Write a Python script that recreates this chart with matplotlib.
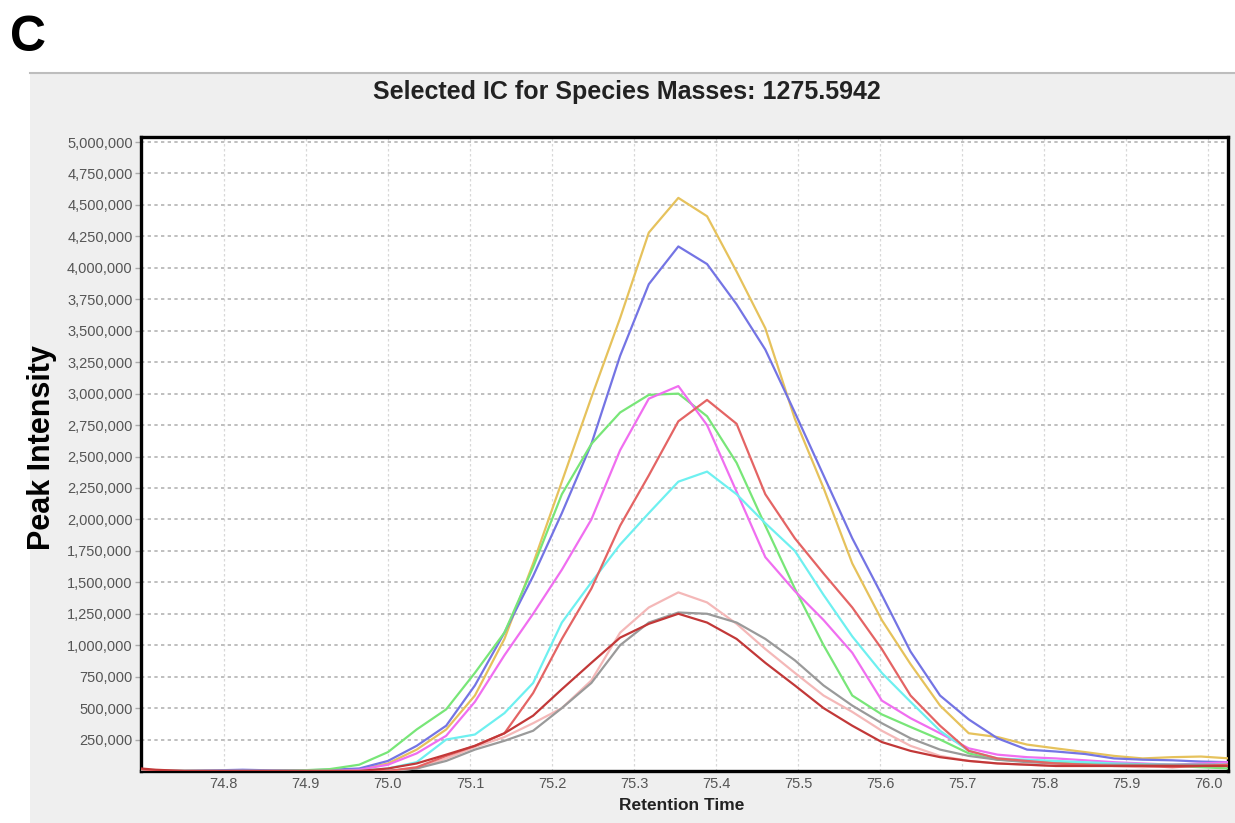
import matplotlib
matplotlib.use("Agg")
import matplotlib.pyplot as plt
from matplotlib.ticker import FuncFormatter
import numpy as np

plt.rcParams["font.family"] = ["Liberation Sans", "DejaVu Sans"]

# retention time (min), shared scan grid
times = [74.681, 74.717, 74.752, 74.788, 74.823, 74.858, 74.894, 74.929, 74.965,
         75.000, 75.035, 75.071, 75.106, 75.142, 75.177, 75.212, 75.248, 75.283,
         75.318, 75.354, 75.389, 75.425, 75.460, 75.496, 75.531, 75.566, 75.602,
         75.637, 75.673, 75.708, 75.743, 75.779, 75.814, 75.850, 75.885, 75.920,
         75.956, 75.991, 76.026]

# peak intensity, millions
yellow = [0, 0, 0, 0, 0, 0, 0, 0.005, 0.01, 0.06, 0.17, 0.33, 0.6, 1.05, 1.65, 2.3,
          2.97, 3.6, 4.28, 4.556, 4.41, 3.97, 3.52, 2.8, 2.25, 1.65, 1.2, 0.85, 0.52,
          0.3, 0.27, 0.21, 0.18, 0.15, 0.12, 0.1, 0.11, 0.115, 0.1]
blue = [0, 0, 0, 0.005, 0.01, 0.005, 0.005, 0.01, 0.02, 0.08, 0.2, 0.36, 0.68, 1.1,
        1.55, 2.05, 2.6, 3.3, 3.87, 4.17, 4.03, 3.71, 3.35, 2.85, 2.35, 1.85, 1.4,
        0.95, 0.6, 0.41, 0.26, 0.17, 0.155, 0.135, 0.1, 0.09, 0.085, 0.075, 0.07]
green = [0, 0, 0, 0, 0, 0, 0.005, 0.015, 0.05, 0.15, 0.33, 0.49, 0.78, 1.1, 1.62,
         2.2, 2.6, 2.85, 2.99, 3.0, 2.82, 2.45, 1.95, 1.45, 1.0, 0.6, 0.45, 0.35,
         0.25, 0.14, 0.09, 0.08, 0.07, 0.06, 0.05, 0.05, 0.04, 0.03, 0.02]
magenta = [0, 0, 0, 0, 0, 0, 0, 0, 0.01, 0.05, 0.14, 0.28, 0.55, 0.92, 1.25, 1.6,
           2.0, 2.55, 2.96, 3.06, 2.75, 2.22, 1.7, 1.43, 1.2, 0.94, 0.56, 0.42, 0.3,
           0.18, 0.13, 0.11, 0.1, 0.085, 0.07, 0.06, 0.05, 0.06, 0.07]
red = [0.03, 0, 0, 0, 0, 0, 0, 0, 0, 0, 0.03, 0.12, 0.2, 0.3, 0.62, 1.05, 1.45,
       1.95, 2.35, 2.78, 2.95, 2.76, 2.2, 1.85, 1.57, 1.3, 0.97, 0.6, 0.36, 0.16,
       0.1, 0.08, 0.06, 0.05, 0.04, 0.04, 0.03, 0.04, 0.05]
cyan = [0, 0, 0, 0, 0, 0, 0, 0, 0, 0.02, 0.07, 0.25, 0.29, 0.46, 0.7, 1.18, 1.5,
        1.8, 2.05, 2.3, 2.38, 2.2, 1.97, 1.75, 1.4, 1.07, 0.78, 0.55, 0.32, 0.16,
        0.1, 0.09, 0.08, 0.07, 0.06, 0.055, 0.05, 0.05, 0.05]
pink = [0, 0, 0, 0, 0, 0, 0, 0, 0, 0, 0.02, 0.1, 0.19, 0.27, 0.38, 0.5, 0.72, 1.1,
        1.3, 1.42, 1.34, 1.17, 0.97, 0.78, 0.6, 0.47, 0.32, 0.2, 0.12, 0.08, 0.06,
        0.05, 0.04, 0.04, 0.04, 0.03, 0.04, 0.04, 0.04]
gray = [0, 0, 0, 0, 0, 0, 0, 0, 0, 0, 0.02, 0.08, 0.17, 0.24, 0.32, 0.5, 0.7, 1.0,
        1.18, 1.26, 1.25, 1.18, 1.05, 0.88, 0.68, 0.52, 0.38, 0.26, 0.17, 0.12,
        0.09, 0.07, 0.06, 0.05, 0.05, 0.05, 0.05, 0.05, 0.05]
darkred = [0.03, 0.01, 0, 0, 0, 0, 0, 0, 0, 0.02, 0.06, 0.13, 0.2, 0.3, 0.44, 0.65,
           0.86, 1.06, 1.17, 1.25, 1.18, 1.05, 0.86, 0.68, 0.5, 0.36, 0.23, 0.16,
           0.11, 0.08, 0.06, 0.05, 0.04, 0.04, 0.04, 0.04, 0.04, 0.04, 0.04]

series = [
    (yellow, "#e6c25c"),
    (blue, "#7474e4"),
    (green, "#78e678"),
    (magenta, "#f06ef0"),
    (cyan, "#6ef0f0"),
    (pink, "#f4b8b8"),
    (gray, "#9a9a9a"),
    (red, "#e46464"),
    (darkred, "#c23838"),
]

xticks = [74.8, 74.9, 75.0, 75.1, 75.2, 75.3, 75.4, 75.5, 75.6, 75.7, 75.8, 75.9, 76.0]
yticks = np.arange(250000, 5000001, 250000)

fig = plt.figure(figsize=(12.35, 8.23), dpi=100)
fig.patch.set_facecolor("white")

# grey panel behind the plot
bg = fig.add_axes([30 / 1235, 0, 1 - 30 / 1235, 1 - 73 / 823], zorder=-5)
bg.set_facecolor("#efefef")
bg.set_xticks([])
bg.set_yticks([])
for side, s in bg.spines.items():
    s.set_visible(side == "top")
bg.spines["top"].set_color("#bdbdbd")
bg.spines["top"].set_linewidth(1.5)

ax = fig.add_axes([141 / 1235, 1 - 771 / 823, (1228 - 141) / 1235, (771 - 137) / 823])
ax.set_facecolor("white")

for vals, col in series:
    ax.plot(times, np.array(vals) * 1e6, color=col, lw=1.6, zorder=3)

ax.set_xlim(74.699, 76.024)
ax.set_ylim(0, 5040000)
ax.set_xticks(xticks)
ax.set_xticklabels([f"{t:.1f}" for t in xticks])
ax.set_yticks(yticks)
ax.yaxis.set_major_formatter(FuncFormatter(lambda v, p: f"{int(v):,}"))
ax.tick_params(axis="y", labelsize=10.5, labelcolor="#555555", color="#aaaaaa",
               length=4, width=1, pad=2)
ax.tick_params(axis="x", labelsize=10.5, labelcolor="#555555", length=0, pad=4)

ax.yaxis.grid(True, color="#b4b4b4", linestyle=(0, (2, 2)), lw=1.2, zorder=1)
ax.xaxis.grid(True, color="#d8d8d8", linestyle=(0, (2, 2)), lw=0.9, zorder=1)
ax.set_axisbelow(True)

for s in ax.spines.values():
    s.set_linewidth(2.4)
    s.set_color("black")

fig.text(28 / 1235, 1 - 38 / 823, "C", fontsize=36, fontweight="bold", ha="center", va="center")
fig.text(627 / 1235, 1 - 92 / 823, "Selected IC for Species Masses: 1275.5942",
         fontsize=18, fontweight="bold", color="#222222", ha="center", va="center")
fig.text(682 / 1235, 1 - 806 / 823, "Retention Time", fontsize=12.5, fontweight="bold",
         color="#222222", ha="center", va="center")
fig.text(42 / 1235, 1 - 448 / 823, "Peak Intensity", fontsize=22, fontweight="bold",
         ha="center", va="center", rotation=90)

fig.savefig("out.png", dpi=100)
